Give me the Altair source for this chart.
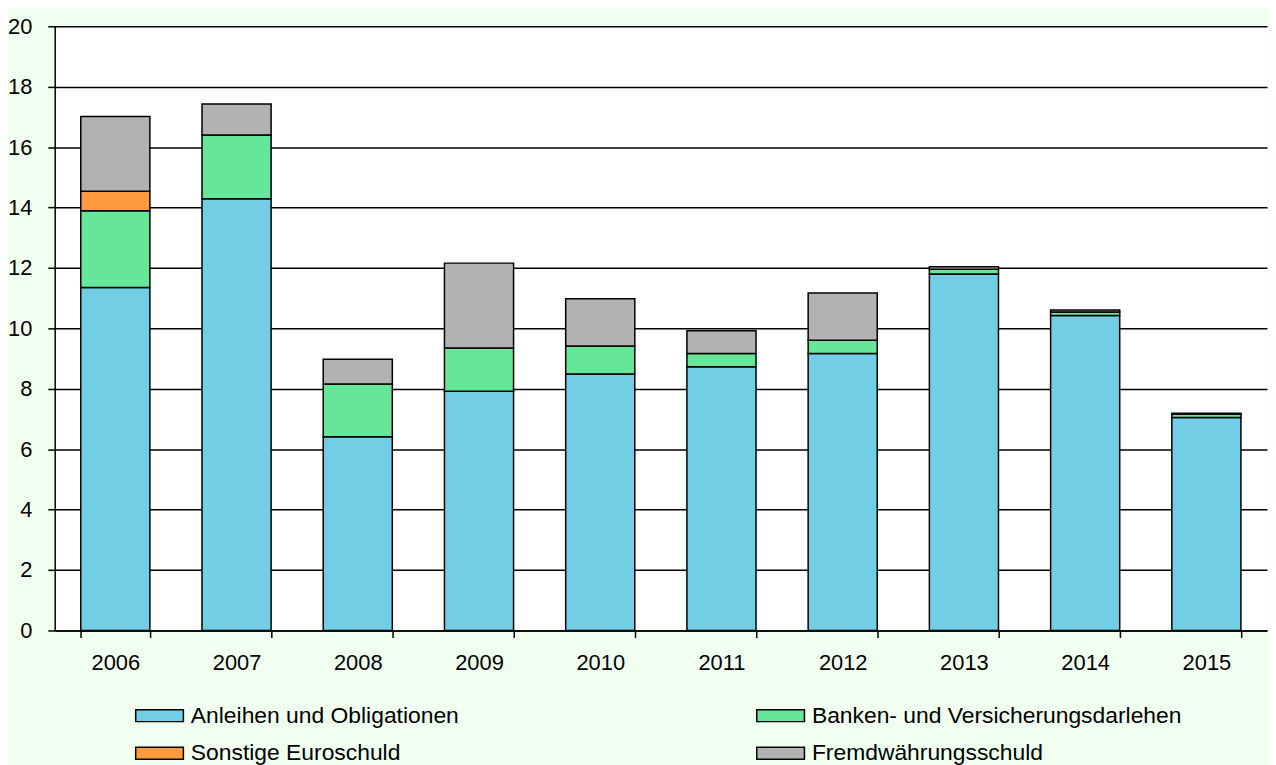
import altair as alt
import pandas as pd

years = ["2006", "2007", "2008", "2009", "2010", "2011", "2012", "2013", "2014", "2015"]
series = [
    "Anleihen und Obligationen",
    "Banken- und Versicherungsdarlehen",
    "Sonstige Euroschuld",
    "Fremdwährungsschuld",
]
colors = ["#72CEE4", "#66E699", "#FF9A40", "#B2B2B2"]

anleihen = [11.35, 14.29, 6.41, 7.92, 8.49, 8.73, 9.17, 11.80, 10.43, 7.05]
banken = [2.54, 2.11, 1.75, 1.43, 0.93, 0.44, 0.44, 0.16, 0.11, 0.11]
sonstige = [0.65, 0, 0, 0, 0, 0, 0, 0, 0, 0]
fremd = [2.47, 1.03, 0.82, 2.81, 1.56, 0.75, 1.56, 0.08, 0.07, 0.03]

rows = []
for idx, (name, vals) in enumerate(zip(series, [anleihen, banken, sonstige, fremd])):
    for yr, v in zip(years, vals):
        if v > 0:
            rows.append({"Jahr": yr, "Serie": name, "Wert": v, "Ordnung": idx})
df = pd.DataFrame(rows)

# legend fills column by column: put the entries in that order
legend_order = [0, 2, 1, 3]
legend_domain = [series[i] for i in legend_order]
legend_range = [colors[i] for i in legend_order]

FONT = "Liberation Sans"

chart = (
    alt.Chart(df)
    .mark_bar(stroke="black", strokeWidth=1.5, opacity=1)
    .encode(
        x=alt.X(
            "Jahr:N",
            sort=years,
            title=None,
            scale=alt.Scale(paddingInner=0.43, paddingOuter=0.215),
            axis=alt.Axis(
                labelAngle=0,
                tickBand="extent",
                tickSize=7,
                tickColor="black",
                tickWidth=1.5,
                domainColor="black",
                domainWidth=1.5,
                labelFont=FONT,
                labelFontSize=22,
                labelColor="black",
                labelPadding=15,
                grid=False,
            ),
        ),
        y=alt.Y(
            "Wert:Q",
            stack="zero",
            title=None,
            scale=alt.Scale(domain=[0, 20], nice=False),
            axis=alt.Axis(
                values=list(range(0, 21, 2)),
                grid=True,
                gridColor="black",
                gridWidth=1.5,
                gridOpacity=1,
                tickSize=7,
                tickColor="black",
                tickWidth=1.5,
                domainColor="black",
                domainWidth=1.5,
                labelFont=FONT,
                labelFontSize=22,
                labelColor="black",
                labelPadding=16,
            ),
        ),
        color=alt.Color(
            "Serie:N",
            scale=alt.Scale(domain=legend_domain, range=legend_range),
            legend=alt.Legend(
                title=None,
                orient="none",
                legendX=76,
                legendY=682,
                direction="vertical",
                columns=2,
                columnPadding=294,
                rowPadding=14,
                symbolType="M-1,-1H7V1H-1Z",
                symbolSize=144,
                symbolStrokeColor="black",
                symbolStrokeWidth=1.5,
                symbolOpacity=1,
                labelOffset=38,
                labelFont=FONT,
                labelFontSize=23,
                labelColor="black",
                labelLimit=0,
            ),
        ),
        order=alt.Order("Ordnung:Q", sort="ascending"),
    )
    .properties(
        width=1220,
        height=608,
        padding={"left": 47, "top": 16, "right": 1, "bottom": 134},
        autosize="none",
        background="#F0FFF0",
    )
    .configure_view(fill="white", stroke=None)
)

chart.save("out.html", embed_options={"renderer": "svg", "actions": False})
